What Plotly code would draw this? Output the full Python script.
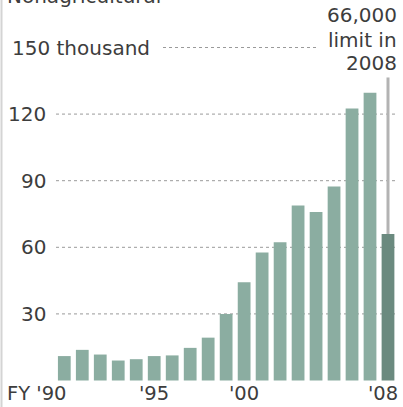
import plotly.graph_objects as go

years = list(range(1990, 2009))
visas = [11.0, 13.8, 11.7, 9.0, 9.6, 11.0, 11.3, 14.7, 19.3, 29.9, 44.3,
         57.7, 62.3, 78.8, 75.9, 87.4, 122.5, 129.6, 66.0]
bar_colors = ["#8bad a1".replace(" ", "")] * 18 + ["#6b8a7f"]
grid_values = [30, 60, 90, 120]
grid_labels = ["30", "60", "90", "120"]
top_value = 150
top_label = "150 thousand"
x_labels = [(1995, "'95"), (2000, "'00")]

W, H = 403, 407
def px(x):
    return x / W
def py(y):
    return 1 - y / H

FONT = "DejaVu Sans"
TXT = "#3d3d3d"

fig = go.Figure()
fig.add_trace(go.Bar(x=years, y=visas, marker=dict(color=bar_colors, line=dict(width=0)),
                     hoverinfo="skip"))

shapes = []
for v in grid_values:
    shapes.append(dict(type="line", xref="paper", yref="y", x0=px(56), x1=px(395), y0=v, y1=v,
                       line=dict(color="#9a9a9a", width=1, dash="dot"), layer="below"))
shapes.append(dict(type="line", xref="paper", yref="y", x0=px(163), x1=px(318), y0=top_value, y1=top_value,
                   line=dict(color="#9a9a9a", width=1, dash="dot"), layer="below"))
# 2008 limit marker line
shapes.append(dict(type="line", xref="x", yref="y", x0=2008, x1=2008, y0=visas[-1], y1=136.5,
                   line=dict(color="#b3b3b3", width=3), layer="below"))
# left border
shapes.append(dict(type="line", xref="paper", yref="paper", x0=px(1.5), x1=px(1.5), y0=0, y1=1,
                   line=dict(color="#d4d4d4", width=2)))

ann = []
for v, lab in zip(grid_values, grid_labels):
    ann.append(dict(x=px(48), y=v, xref="paper", yref="y", text=lab, xanchor="right",
                    yanchor="middle", showarrow=False))
ann.append(dict(x=px(10), y=top_value, xref="paper", yref="y", text=top_label, xanchor="left",
                yanchor="middle", showarrow=False))
XL = dict(size=19.5)
ann.append(dict(x=px(6), y=py(406), xref="paper", yref="paper", text="FY '90", xanchor="left",
                yanchor="bottom", showarrow=False, font=XL, borderpad=0))
for xv, lab in x_labels:
    ann.append(dict(x=xv, y=py(406), xref="x", yref="paper", text=lab, xanchor="center",
                    yanchor="bottom", showarrow=False, font=XL, borderpad=0))
ann.append(dict(x=px(399), y=py(406), xref="paper", yref="paper", text="'08", xanchor="right",
                yanchor="bottom", showarrow=False, font=XL, borderpad=0))
for txt, yy in [("66,000", 15.5), ("limit in", 40), ("2008", 63)]:
    ann.append(dict(x=px(399), y=py(yy), xref="paper", yref="paper", text=txt, xanchor="right",
                    yanchor="middle", showarrow=False))
ann.append(dict(x=px(5), y=py(-4), xref="paper", yref="paper", text="Nonagricultural",
                xanchor="left", yanchor="middle", showarrow=False))

pitch = (388 - 64.3) / 18
x0 = 1990 - 64.3 / pitch
x1 = x0 + W / pitch
ppu = 66.6 / 30
y0 = -(H - 380.5) / ppu
y1 = y0 + H / ppu

fig.update_layout(
    width=W, height=H, margin=dict(l=0, r=0, t=0, b=0),
    paper_bgcolor="white", plot_bgcolor="white",
    bargap=0.29, showlegend=False,
    font=dict(family=FONT, size=20, color=TXT),
    xaxis=dict(range=[x0, x1], visible=False, fixedrange=True),
    yaxis=dict(range=[y0, y1], visible=False, fixedrange=True),
    shapes=shapes, annotations=ann,
)
fig.write_html("out.html", config={"displayModeBar": False},
               post_script="document.body.style.margin='0';document.body.style.overflow='hidden';")
